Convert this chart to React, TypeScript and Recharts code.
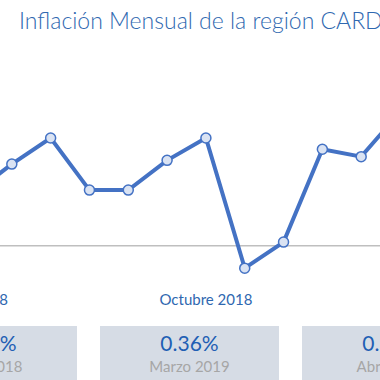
import { LineChart, Line, XAxis, YAxis, ReferenceLine } from "recharts"

const months = [
    "Abril 2018", "Mayo 2018", "Junio 2018", "Julio 2018", "Agosto 2018", "Septiembre 2018",
    "Octubre 2018", "Noviembre 2018", "Diciembre 2018", "Enero 2019", "Febrero 2019", "Marzo 2019",
]
const inflation = [0.14, 0.22, 0.29, 0.15, 0.15, 0.23, 0.29, -0.06, 0.01, 0.26, 0.24, 0.36]
const tickIdx = [0, 6]

const boxValues = ["0.27%", "0.36%", "0.34%"]
const boxLabels = ["Abril 2018", "Marzo 2019", "Abril 2019"]

const data = months.map((m, i) => ({ idx: i, name: m, value: inflation[i] }))

const font = "Lato, 'Noto Sans', sans-serif"

export default function App() {
    return (
        <div style={{ position: "absolute", left: 0, top: 0, width: 380, height: 380, overflow: "hidden", background: "#fff", fontFamily: font }}>
            <div style={{ position: "absolute", left: 19, top: 6, fontSize: 23, color: "#2f68b0", whiteSpace: "nowrap", fontWeight: 300 }}>
                Inflación Mensual de la región CARD
            </div>
            <div style={{ position: "absolute", left: -47, top: 0 }}>
                <LineChart width={467} height={323} data={data} margin={{ top: 60, right: 20, bottom: 0, left: 20 }}>
                    <XAxis
                        dataKey="idx"
                        type="number"
                        domain={[0, 11]}
                        ticks={tickIdx}
                        interval={0}
                        tickFormatter={(v: number) => months[v]}
                        axisLine={false}
                        tickLine={false}
                        tickMargin={5}
                        height={40}
                        tick={{ fill: "#2f68b0", fontSize: 15, fontFamily: font }}
                    />
                    <YAxis hide domain={[-0.1, 0.5]} />
                    <ReferenceLine y={0} stroke="#bfbfbf" strokeWidth={1.5} />
                    <Line
                        dataKey="value"
                        stroke="#4472c4"
                        strokeWidth={4}
                        dot={{ r: 5, fill: "#dae3f3", stroke: "#4472c4", strokeWidth: 1.5 }}
                        isAnimationActive={false}
                    />
                </LineChart>
            </div>
            {boxValues.map((v, i) => (
                <div
                    key={i}
                    style={{
                        position: "absolute", left: -102 + i * 202, top: 326, width: 179, height: 60,
                        background: "#d6dce5", textAlign: "center",
                    }}
                >
                    <div style={{ fontSize: 21, color: "#1f5fb4", marginTop: 4 }}>{v}</div>
                    <div style={{ fontSize: 15, color: "#a6a6a6", marginTop: 2 }}>{boxLabels[i]}</div>
                </div>
            ))}
        </div>
    )
}
